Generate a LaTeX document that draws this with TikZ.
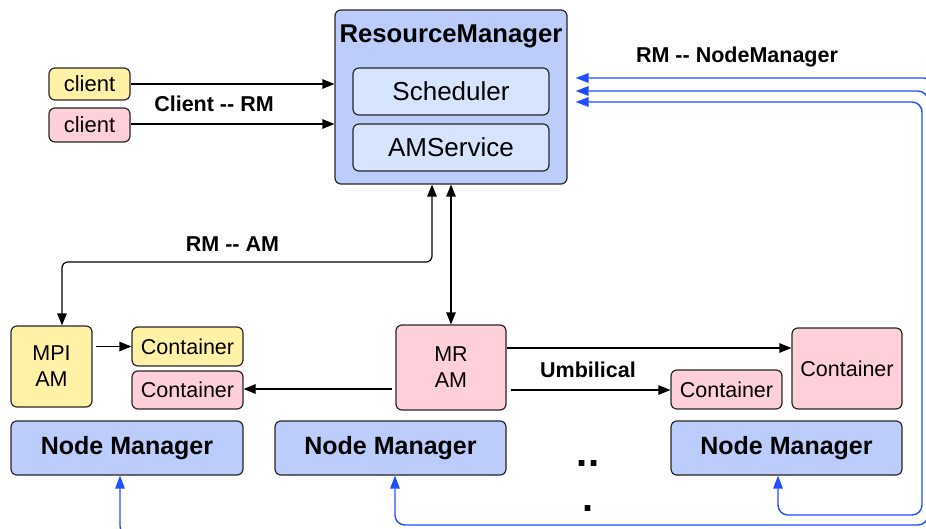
\documentclass[tikz,border=0pt]{standalone}
\usepackage{fontspec}
\setmainfont{Liberation Sans}
\usetikzlibrary{arrows.meta,calc}
\definecolor{yel}{HTML}{FFF1A6}
\definecolor{pnk}{HTML}{FFD0DA}
\definecolor{rmblue}{HTML}{BCCDFB}
\definecolor{inblue}{HTML}{D6E4FD}
\definecolor{lnblue}{HTML}{1F4EFF}
\definecolor{edge}{HTML}{262626}
\begin{document}
\begin{tikzpicture}[x=1pt,y=-1pt,
  box/.style={draw=edge, line width=1.2pt, rounded corners=6pt, inner sep=0pt, align=center},
  tipk/.tip={Triangle[length=12pt,width=9.5pt]},
  tipb/.tip={Triangle[length=13pt,width=9.5pt,fill=lnblue]},
  arr/.style={draw=black, line width=1.2pt, -tipk},
  darr/.style={draw=black, line width=1.2pt, tipk-tipk, rounded corners=6pt},
  barr/.style={draw=lnblue, line width=1.4pt, tipb-tipb, rounded corners=10pt},
  fnorm/.style={font=\fontsize{21.5}{26}\selectfont},
  fcl/.style={font=\fontsize{22}{26}\selectfont},
  fbig/.style={font=\fontsize{26}{30}\selectfont},
  ftitle/.style={font=\fontsize{25.7}{30}\selectfont\bfseries},
  fnm/.style={font=\fontsize{25}{30}\selectfont\bfseries},
  flab/.style={font=\fontsize{21.5}{26}\selectfont\bfseries}]
\useasboundingbox (0,0) rectangle (926,529);
\clip (0,0) rectangle (926,529);

% clients
\node[box, fill=yel, minimum width=81pt, minimum height=32pt, fcl] (cl1) at (89.5,84) {client};
\node[box, fill=pnk, minimum width=81pt, minimum height=34pt, fcl] (cl2) at (89.5,125) {client};

% resource manager
\node[box, fill=rmblue, minimum width=232pt, minimum height=174pt] (rm) at (451,97) {};
\node[ftitle, anchor=base] (rmt) at (451,43) {ResourceManager};
\node[box, fill=inblue, minimum width=196pt, minimum height=47pt, fbig] (sch) at (451,91.5) {Scheduler};
\node[box, fill=inblue, minimum width=196pt, minimum height=47pt, fbig] (ams) at (451,147.5) {AMService};

% application masters and containers
\node[box, fill=yel, minimum width=81pt, minimum height=81pt, fnorm] (mpi) at (51.5,366.5) {MPI\\AM};
\node[box, fill=yel, minimum width=111pt, minimum height=39pt, fnorm] (cy) at (187.5,346.5) {Container};
\node[box, fill=pnk, minimum width=111pt, minimum height=38pt, fnorm] (cp) at (187.5,390) {Container};
\node[box, fill=pnk, minimum width=110pt, minimum height=85pt, fnorm] (mr) at (451,367.5) {MR\\AM};
\node[box, fill=pnk, minimum width=111pt, minimum height=39pt, fnorm] (cs) at (726.5,389.5) {Container};
\node[box, fill=pnk, minimum width=110pt, minimum height=81pt, fnorm] (cb) at (847,368.5) {Container};

% node managers
\node[box, fill=rmblue, minimum width=232pt, minimum height=54pt, fnm] (nm1) at (127,448) {Node Manager};
\node[box, fill=rmblue, minimum width=231pt, minimum height=54pt, fnm] (nm2) at (390.5,448) {Node Manager};
\node[box, fill=rmblue, minimum width=231pt, minimum height=54pt, fnm] (nm3) at (786.5,448) {Node Manager};

% dots
\node[font=\fontsize{40}{40}\selectfont\bfseries, anchor=base, inner sep=0pt] (dots1) at (588,466.5) {..};
\node[font=\fontsize{40}{40}\selectfont\bfseries, anchor=base, inner sep=0pt] (dots2) at (588,511.5) {.};

% labels
\node[flab, anchor=base] (lcr) at (214,112) {Client -{}- RM};
\node[flab, anchor=base] (lrn) at (737,63) {RM -{}- NodeManager};
\node[flab, anchor=base] (lra) at (232.5,252) {RM -{}- AM};
\node[flab, anchor=base] (lum) at (588,377) {Umbilical};

% client -> RM
\draw[arr] (cl1.east) -- (cl1.east -| rm.west);
\draw[arr] ($(cl2.east)+(0,-1)$) -- ($(cl2.east -| rm.west)+(0,-1)$);

% RM <-> AMs
\coordinate (rmamc) at (432,262);
\draw[darr] ($(mpi.north)+(10.5,0)$) |- (rmamc) -- (rmamc |- rm.south);
\draw[darr] (rm.south) -- (mr.north);

% AM -> containers
\draw[arr] ($(mpi.east |- cy.west)+(3,0)$) -- (cy.west);
\draw[arr] ($(mr.west |- cp.east)+(-3,-1)$) -- ($(cp.east)+(0,-1)$);
\draw[arr] ($(mr.east)+(0,-19.5)$) -- ($(mr.east -| cb.west)+(0,-19.5)$);
\draw[arr] ($(mr.east)+(4,22.5)$) -- ($(mr.east -| cs.west)+(0,22.5)$);

% RM <-> node managers
\coordinate (t1) at ($(rm.east |- 0,78)+(8,0)$);
\coordinate (t2) at ($(rm.east |- 0,91)+(8,0)$);
\coordinate (t3) at ($(rm.east |- 0,102)+(8,0)$);
\coordinate (b1) at (934,536);
\coordinate (b2) at (928,525);
\coordinate (b3) at (922,515);
\draw[barr] (t3) -| (b3) -| ($(nm3.south)+(-8.5,0)$);
\draw[barr] (t2) -| (b2) -| ($(nm2.south)+(4.5,0)$);
\draw[barr] (t1) -| (b1) -| ($(nm1.south)+(-7,0)$);
\end{tikzpicture}
\end{document}
